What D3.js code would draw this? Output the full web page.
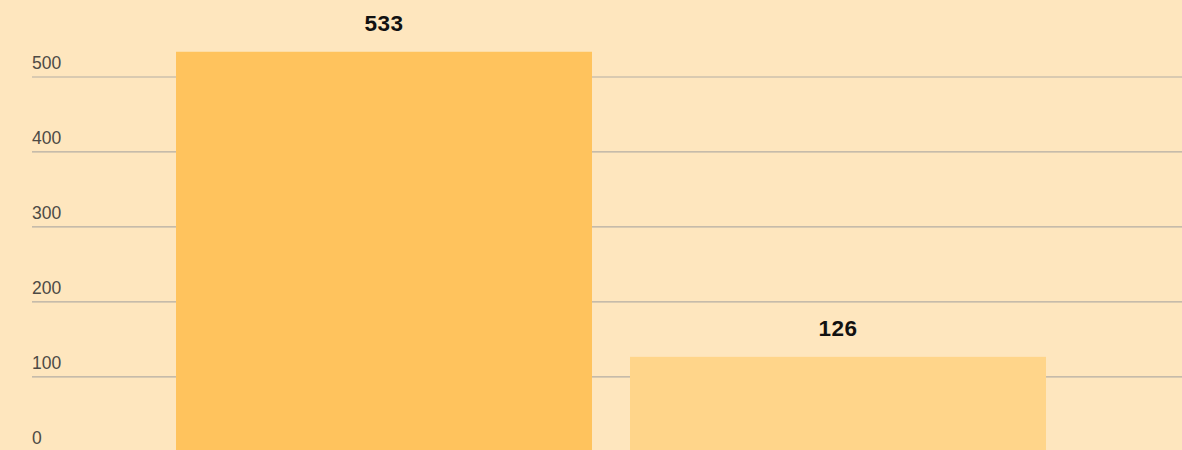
<!DOCTYPE html>
<html>
<head>
<meta charset="utf-8">
<script src="https://cdn.jsdelivr.net/npm/d3@7"></script>
<style>
  html, body { margin: 0; padding: 0; background: #fee6be; }
  svg { display: block; }
</style>
</head>
<body>
<svg id="chart" width="1182" height="450"></svg>
<script>
// Two categories, one value each
const categories = ["A", "B"];
const values = [533, 126];
const barColors = ["#ffc35d", "#ffd58a"];
const tickValues = [0, 100, 200, 300, 400, 500];

const width = 1182, height = 450;
const svg = d3.select("#chart");

svg.append("rect").attr("width", width).attr("height", height).attr("fill", "#fee6be");

const y = d3.scaleLinear().domain([0, 500]).range([451.3, 76.5]);
const x = d3.scaleBand()
  .domain(categories)
  .range([176, 1046])
  .paddingInner(38 / 454)
  .paddingOuter(0);

// Horizontal gridlines with labels sitting above each line
const yAxis = d3.axisLeft(y)
  .tickValues(tickValues)
  .tickSize(-(width - 32))
  .tickFormat(d3.format("d"));

const axisG = svg.append("g")
  .attr("transform", "translate(32,0)")
  .call(yAxis);
axisG.select(".domain").remove();
axisG.selectAll(".tick line")
  .attr("stroke", "#b3ada3")
  .attr("stroke-width", 1.2)
  .attr("x1", width - 32).attr("x2", 0);
axisG.selectAll(".tick text")
  .attr("x", 0)
  .attr("dy", -8)
  .attr("text-anchor", "start")
  .attr("fill", "#4d4a45")
  .style("font-family", "'Liberation Sans', Arial, sans-serif")
  .style("font-size", "17.5px");

// Bars
svg.append("g").selectAll("rect")
  .data(values)
  .join("rect")
  .attr("x", (d, i) => x(categories[i]))
  .attr("width", x.bandwidth())
  .attr("y", d => y(d))
  .attr("height", d => y(0) - y(d))
  .attr("fill", (d, i) => barColors[i]);

// Value labels
svg.append("g").selectAll("text")
  .data(values)
  .join("text")
  .attr("x", (d, i) => x(categories[i]) + x.bandwidth() / 2)
  .attr("y", d => y(d) - 21)
  .attr("text-anchor", "middle")
  .attr("fill", "#111")
  .style("font-family", "'Liberation Sans', Arial, sans-serif")
  .style("font-weight", "bold")
  .style("font-size", "22.5px")
  .style("letter-spacing", "0.5px")
  .text(d => d);
</script>
</body>
</html>
